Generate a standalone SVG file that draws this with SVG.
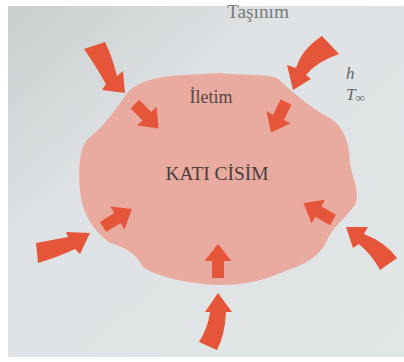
<svg xmlns="http://www.w3.org/2000/svg" width="404" height="362" viewBox="0 0 404 362">
<defs>
<linearGradient id="paper" x1="0" y1="0" x2="1" y2="1">
<stop offset="0" stop-color="#cbcecf"/>
<stop offset="0.35" stop-color="#dee2e4"/>
<stop offset="1" stop-color="#e3e6e7"/>
</linearGradient>
<path id="sa" d="M0,-6 L17,-6 L17,-13.5 L34,0 L17,13.5 L17,6 L0,6 Z"/>
</defs>
<style>
.arr{fill:#e4553a}
.lbl{font-family:"Liberation Serif","Times New Roman",serif}
</style>
<rect x="0" y="0" width="404" height="362" fill="#ffffff"/>
<rect x="8" y="6" width="396" height="351" fill="url(#paper)"/>
<g id="solid">
<path d="M128,92 C140,80 160,76 185,75 L220,73 C240,76 262,73 277,78 C290,90 310,108 330,118 C345,128 350,145 350,165 C354,180 360,195 355,205 C348,215 335,225 328,238 C322,255 305,265 285,271 C265,280 245,285 220,285 C190,284 160,278 143,267 C137,255 128,248 110,243 C95,232 82,215 80,190 C78,165 80,145 90,137 C105,125 115,110 128,92 Z" fill="#e9ab9f"/>
</g>
<g id="arrows" class="arr">
<path d="M84,49 Q96,66 106,84 L102,90 L125,93 L123,71 L117,76 Q112,56 105,42 Z"/>
<path d="M322,36 Q302,49 296,68 L287,65 L293,90 L311,79 L306,75 Q316,62 339,54 Z"/>
<path d="M36,243 Q52,240 68,237 L66,232 L90,233 L80,254 L75,249 Q58,257 38,263 Z"/>
<path d="M380,270 Q372,255 359,244 L353,248 L346,227 L368,227 L364,234 Q385,242 397,258 Z"/>
<path d="M199,342 Q208,328 210,312 L205,312 L218,293 L232,312 L226,312 Q225,335 217,350 Z"/>
<use href="#sa" transform="translate(135,104) rotate(46)"/>
<use href="#sa" transform="translate(286,102) rotate(116)"/>
<use href="#sa" transform="translate(103,227) rotate(-32)"/>
<use href="#sa" transform="translate(333,220) rotate(-150)"/>
<use href="#sa" transform="translate(218,278) rotate(-90)"/>
</g>
<g id="label-tasinim"><text class="lbl" x="258" y="18" font-size="19" fill="#7a7a7a" text-anchor="middle" textLength="62" lengthAdjust="spacingAndGlyphs">Taşınım</text></g>
<g id="label-iletim"><text class="lbl" x="211" y="103" font-size="18" fill="#564848" text-anchor="middle">İletim</text></g>
<g id="label-kati"><text class="lbl" x="217" y="180" font-size="18.5" fill="#4a3c3a" text-anchor="middle" textLength="103" lengthAdjust="spacingAndGlyphs">KATI CİSİM</text></g>
<g id="label-h"><text class="lbl" x="346" y="79" font-size="17" font-style="italic" fill="#666666">h</text></g>
<g id="label-tinf"><text class="lbl" x="346" y="100" font-size="17" font-style="italic" fill="#666666">T<tspan font-size="13" dy="2">∞</tspan></text></g>
</svg>
